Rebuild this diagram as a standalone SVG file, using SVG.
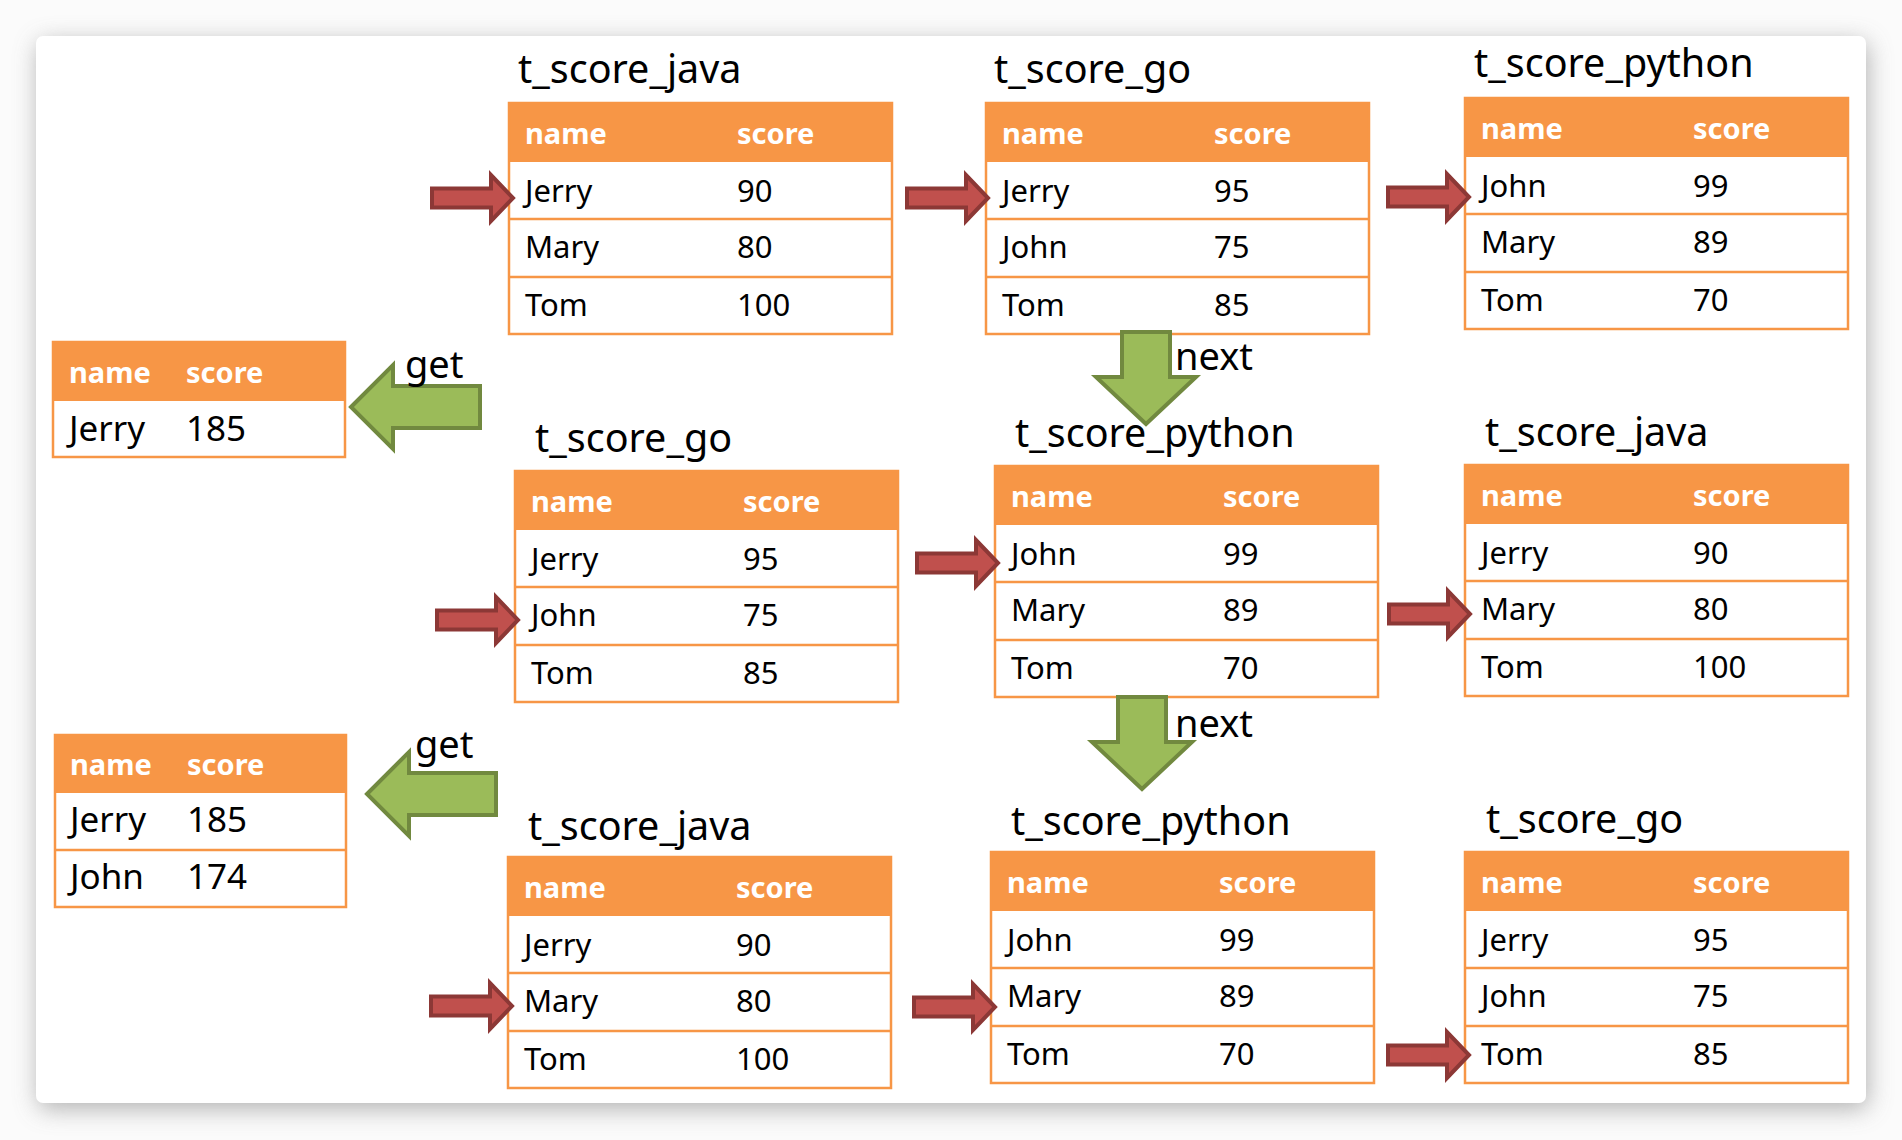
<svg xmlns="http://www.w3.org/2000/svg" xmlns:xlink="http://www.w3.org/1999/xlink" width="1902" height="1140" viewBox="0 0 1902 1140">
<style>
.hdr{fill:#F79646}
.box{fill:none;stroke:#F79646;stroke-width:2.5}
.sep{stroke:#F79646;stroke-width:2.5}
text{font-family:"Noto Sans","Open Sans","DejaVu Sans",sans-serif}
.th{font-weight:bold;font-size:29px;fill:#fff}
.td{font-size:31px;fill:#000}
.tdl{font-size:35px;fill:#000}
.ttl{font-size:39.5px;fill:#000}
.lbl{font-size:38px;fill:#000}
.red{fill:#C0504D;stroke:#8C3836;stroke-width:4;stroke-linejoin:miter}
.grn{fill:#9BBB59;stroke:#71893F;stroke-width:4;stroke-linejoin:miter}
</style>
<defs>
<filter id="sh" x="-10%" y="-10%" width="120%" height="120%">
<feGaussianBlur stdDeviation="12"/>
</filter>
<path id="ra" d="M-81,-9.5 L-22,-9.5 L-22,-23 L0,0 L-22,23 L-22,9.5 L-81,9.5 Z"/>
<path id="ga" d="M0,0 L42,-42 L42,-21 L129,-21 L129,21 L42,21 L42,42 Z"/>
<path id="na" d="M0,0 L-50,-47 L-24,-47 L-24,-92 L24,-92 L24,-47 L50,-47 Z"/>
<g id="tbl3">
<rect class="hdr" x="0" y="0" width="383" height="59"/>
<rect fill="#fff" x="0" y="59" width="383" height="172"/>
<line class="sep" x1="0" y1="116" x2="383" y2="116"/>
<line class="sep" x1="0" y1="174" x2="383" y2="174"/>
<rect class="box" x="0" y="0" width="383" height="231"/>
<text class="th" x="16" y="41">name</text>
<text class="th" x="228" y="41">score</text>
</g>
</defs>
<rect x="0" y="0" width="1902" height="1140" fill="#fbfbfb"/>
<rect x="38" y="42" width="1830" height="1067" rx="8" fill="#9a9a9a" opacity="0.75" filter="url(#sh)"/>
<rect x="36" y="36" width="1830" height="1067" rx="7" fill="#fff"/>

<g id="t1" transform="translate(509,103)">
<text class="ttl" x="9" y="-20">t_score_java</text>
<use xlink:href="#tbl3"/>
<text class="td" x="16" y="99">Jerry</text><text class="td" x="228" y="99">90</text>
<text class="td" x="16" y="155">Mary</text><text class="td" x="228" y="155">80</text>
<text class="td" x="16" y="213">Tom</text><text class="td" x="228" y="213">100</text>
</g>
<g id="t2" transform="translate(986,103)">
<text class="ttl" x="8" y="-20">t_score_go</text>
<use xlink:href="#tbl3"/>
<text class="td" x="16" y="99">Jerry</text><text class="td" x="228" y="99">95</text>
<text class="td" x="16" y="155">John</text><text class="td" x="228" y="155">75</text>
<text class="td" x="16" y="213">Tom</text><text class="td" x="228" y="213">85</text>
</g>
<g id="t3" transform="translate(1465,98)">
<text class="ttl" x="9" y="-21">t_score_python</text>
<use xlink:href="#tbl3"/>
<text class="td" x="16" y="99">John</text><text class="td" x="228" y="99">99</text>
<text class="td" x="16" y="155">Mary</text><text class="td" x="228" y="155">89</text>
<text class="td" x="16" y="213">Tom</text><text class="td" x="228" y="213">70</text>
</g>
<g id="t4" transform="translate(515,471)">
<text class="ttl" x="20" y="-19">t_score_go</text>
<use xlink:href="#tbl3"/>
<text class="td" x="16" y="99">Jerry</text><text class="td" x="228" y="99">95</text>
<text class="td" x="16" y="155">John</text><text class="td" x="228" y="155">75</text>
<text class="td" x="16" y="213">Tom</text><text class="td" x="228" y="213">85</text>
</g>
<g id="t5" transform="translate(995,466)">
<text class="ttl" x="20" y="-19">t_score_python</text>
<use xlink:href="#tbl3"/>
<text class="td" x="16" y="99">John</text><text class="td" x="228" y="99">99</text>
<text class="td" x="16" y="155">Mary</text><text class="td" x="228" y="155">89</text>
<text class="td" x="16" y="213">Tom</text><text class="td" x="228" y="213">70</text>
</g>
<g id="t6" transform="translate(1465,465)">
<text class="ttl" x="20" y="-19">t_score_java</text>
<use xlink:href="#tbl3"/>
<text class="td" x="16" y="99">Jerry</text><text class="td" x="228" y="99">90</text>
<text class="td" x="16" y="155">Mary</text><text class="td" x="228" y="155">80</text>
<text class="td" x="16" y="213">Tom</text><text class="td" x="228" y="213">100</text>
</g>
<g id="t7" transform="translate(508,857)">
<text class="ttl" x="20" y="-17">t_score_java</text>
<use xlink:href="#tbl3"/>
<text class="td" x="16" y="99">Jerry</text><text class="td" x="228" y="99">90</text>
<text class="td" x="16" y="155">Mary</text><text class="td" x="228" y="155">80</text>
<text class="td" x="16" y="213">Tom</text><text class="td" x="228" y="213">100</text>
</g>
<g id="t8" transform="translate(991,852)">
<text class="ttl" x="20" y="-17">t_score_python</text>
<use xlink:href="#tbl3"/>
<text class="td" x="16" y="99">John</text><text class="td" x="228" y="99">99</text>
<text class="td" x="16" y="155">Mary</text><text class="td" x="228" y="155">89</text>
<text class="td" x="16" y="213">Tom</text><text class="td" x="228" y="213">70</text>
</g>
<g id="t9" transform="translate(1465,852)">
<text class="ttl" x="21" y="-19">t_score_go</text>
<use xlink:href="#tbl3"/>
<text class="td" x="16" y="99">Jerry</text><text class="td" x="228" y="99">95</text>
<text class="td" x="16" y="155">John</text><text class="td" x="228" y="155">75</text>
<text class="td" x="16" y="213">Tom</text><text class="td" x="228" y="213">85</text>
</g>

<g id="r1" transform="translate(53,342)">
<rect class="hdr" x="0" y="0" width="292" height="59"/>
<rect class="box" x="0" y="0" width="292" height="115"/>
<text class="th" x="16" y="41">name</text>
<text class="th" x="133" y="41">score</text>
<text class="tdl" x="16" y="99">Jerry</text><text class="tdl" x="133" y="99">185</text>
</g>
<g id="r2" transform="translate(55,735)">
<rect class="hdr" x="0" y="0" width="291" height="58"/>
<line class="sep" x1="0" y1="115" x2="291" y2="115"/>
<rect class="box" x="0" y="0" width="291" height="172"/>
<text class="th" x="15" y="40">name</text>
<text class="th" x="132" y="40">score</text>
<text class="tdl" x="15" y="97">Jerry</text><text class="tdl" x="132" y="97">185</text>
<text class="tdl" x="15" y="154">John</text><text class="tdl" x="132" y="154">174</text>
</g>

<g id="connectors">
<use class="red" xlink:href="#ra" x="513" y="198"/>
<use class="red" xlink:href="#ra" x="988" y="198"/>
<use class="red" xlink:href="#ra" x="1469" y="197"/>
<use class="red" xlink:href="#ra" x="518" y="620"/>
<use class="red" xlink:href="#ra" x="998" y="563"/>
<use class="red" xlink:href="#ra" x="1470" y="614"/>
<use class="red" xlink:href="#ra" x="512" y="1006"/>
<use class="red" xlink:href="#ra" x="995" y="1007"/>
<use class="red" xlink:href="#ra" x="1469" y="1055"/>
<use class="grn" xlink:href="#ga" x="351" y="407"/>
<use class="grn" xlink:href="#ga" x="367" y="794"/>
<use class="grn" xlink:href="#na" x="1146" y="424"/>
<use class="grn" xlink:href="#na" x="1142" y="789"/>
<text class="lbl" x="405" y="378">get</text>
<text class="lbl" x="415" y="758">get</text>
<text class="lbl" x="1175" y="370">next</text>
<text class="lbl" x="1175" y="737">next</text>
</g>
</svg>
